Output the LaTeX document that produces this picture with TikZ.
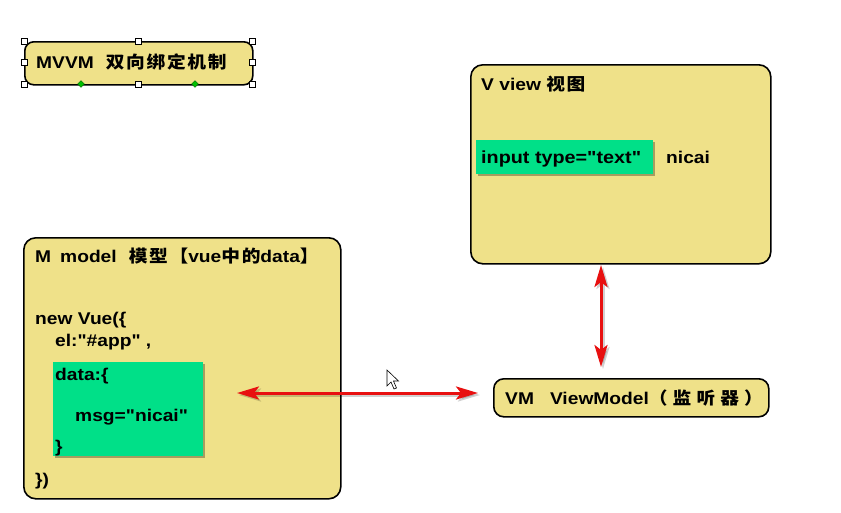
\documentclass[tikz,border=0pt]{standalone}
\usepackage{fontspec}
\setmainfont{Liberation Sans}[FakeStretch=1.13, Ligatures=TeXOff]
\newfontfamily\cjk{Noto Sans CJK SC}[FakeStretch=1.1, LetterSpace=10]
\newfontfamily\cjkwide{Noto Sans CJK SC}[FakeStretch=1.1, LetterSpace=30]
\usetikzlibrary{shapes.geometric,shadows,arrows.meta}
\definecolor{boxyellow}{RGB}{239,225,137}
\definecolor{boxgreen}{RGB}{0,224,136}
\definecolor{arrowred}{RGB}{232,16,16}
\tikzset{
  ybox/.style={draw=black, line width=1.6pt, fill=boxyellow, rounded corners=12pt, inner sep=0pt},
  gbox/.style={fill=boxgreen, inner sep=0pt, drop shadow={shadow xshift=2pt, shadow yshift=-2pt, opacity=0.3, fill=black}},
  txt/.style={anchor=base west, inner sep=0pt, font=\fontsize{17}{20}\selectfont\bfseries},
  handle/.style={draw=black, fill=white, minimum size=6pt, inner sep=0pt, line width=0.6pt},
  gdia/.style={diamond, fill=green!75!black, draw=green!40!black, line width=0.3pt, minimum size=7pt, inner sep=0pt},
  redarrow/.style={draw=arrowred, line width=3pt, {Stealth[length=22pt,width=13pt,inset=5pt]}-{Stealth[length=22pt,width=13pt,inset=5pt]}},
  arrowshadow/.style={draw=black, opacity=0.18, line width=3pt, {Stealth[length=22pt,width=13pt,inset=5pt]}-{Stealth[length=22pt,width=13pt,inset=5pt]}},
}
\begin{document}
\begin{tikzpicture}[x=1pt,y=-1pt]
\fill[white] (0,0) rectangle (841,512);
\useasboundingbox (0,0) rectangle (841,512);

% title box
\node[ybox, rounded corners=9pt, minimum width=228pt, minimum height=43pt, anchor=north west] (title) at (24,41) {};
\node[txt] (titletext) at (36,68) {MVVM\hspace{12pt}{\cjk 双向绑定机制}};
\foreach \hx/\hy [count=\i] in {24/41,138/41,252/41,24/62,252/62,24/84,138/84,252/84}
  \node[handle] (h\i) at (\hx,\hy) {};
\node[gdia] (d1) at (81,84) {};
\node[gdia] (d2) at (195,84) {};

% view box
\node[ybox, minimum width=300pt, minimum height=199pt, anchor=north west] (view) at (470,64) {};
\node[txt] (viewtitle) at (481,90) {V view {\cjk 视图}};
\node[gbox, minimum width=177pt, minimum height=34pt, anchor=north west] (input) at (476,140) {};
\node[txt, font=\fontsize{17.5}{20}\selectfont\bfseries] (inputtext) at (481,163) {input type="text"};
\node[txt] (nicai) at (666,163) {nicai};

% model box
\node[ybox, minimum width=317pt, minimum height=261pt, anchor=north west] (model) at (23,237) {};
\node[txt] (modeltitle) at (35,262) {M\hspace{9pt}model\hspace{12pt}{\cjk 模型【}vue{\cjk 中的}data{\cjk 】}};
\node[txt] (newvue) at (35,324) {new Vue(\{};
\node[txt] (el) at (55,346) {el:"\#app" ,};
\node[gbox, minimum width=150pt, minimum height=94pt, anchor=north west] (data) at (53,362) {};
\node[txt] (datatext) at (55,380) {data:\{};
\node[txt] (msg) at (75,421) {msg="nicai"};
\node[txt] (close1) at (55,452) {\}};
\node[txt] (close2) at (35,485) {\})};

% viewmodel box
\node[ybox, rounded corners=10pt, minimum width=275pt, minimum height=38pt, anchor=north west] (vm) at (493,378) {};
\node[txt] (vmtext) at (505,404) {VM\hspace{16pt}ViewModel{\cjkwide （监听器）}};

% arrows
\coordinate (hl) at (237,393);
\coordinate (hr) at (478,393);
\coordinate (vt) at (601,265);
\coordinate (vb) at (601,367);
\draw[arrowshadow, transform canvas={xshift=2pt,yshift=-2pt}] (hl) -- (hr);
\draw[arrowshadow, transform canvas={xshift=2pt,yshift=-2pt}] (vt) -- (vb);
\draw[redarrow] (hl) -- (hr);
\draw[redarrow] (vt) -- (vb);

% mouse cursor
\draw[fill=white, line width=0.6pt, line join=miter] (387,370) -- (387,386) -- (391,382) -- (394,389) -- (396.5,388) -- (393.5,381) -- (398.5,381) -- cycle;
\end{tikzpicture}
\end{document}
